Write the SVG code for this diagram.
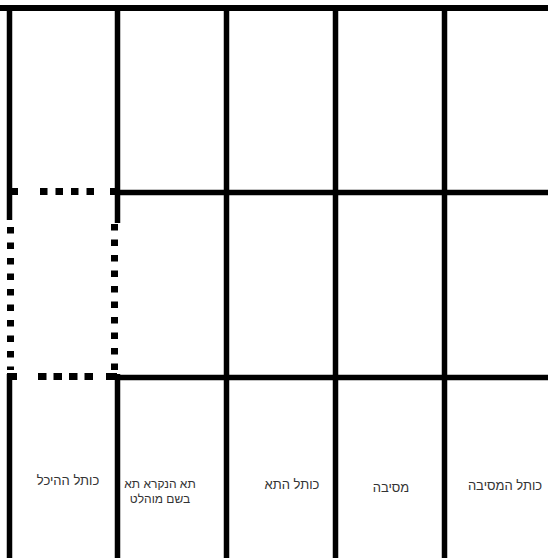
<svg xmlns="http://www.w3.org/2000/svg" width="548" height="558" viewBox="0 0 548 558">
<style>
.ln{stroke:#000;stroke-width:5.5;fill:none}
.dot{stroke:#000;stroke-width:7;fill:none}
.lbl{font-family:"Liberation Sans","DejaVu Sans",sans-serif;font-size:13px;fill:#333;text-anchor:middle}
</style>
<rect width="548" height="558" fill="#fff"/>
<g id="connectors">
<line class="ln" x1="0" y1="8" x2="548" y2="8" style="stroke-width:6"/>
<line class="ln" x1="9.5" y1="5" x2="9.5" y2="220"/>
<line class="ln" x1="9.5" y1="374" x2="9.5" y2="558"/>
<line class="ln" x1="117.5" y1="5" x2="117.5" y2="223"/>
<line class="ln" x1="117.5" y1="374" x2="117.5" y2="558"/>
<line class="ln" x1="226.5" y1="5" x2="226.5" y2="558"/>
<line class="ln" x1="335.5" y1="5" x2="335.5" y2="558"/>
<line class="ln" x1="444.5" y1="5" x2="444.5" y2="558"/>
<line class="ln" x1="117" y1="192.5" x2="548" y2="192.5"/>
<line class="ln" x1="117" y1="377.5" x2="548" y2="377.5"/>
</g>
<g id="dotted-box">
<line class="ln" x1="7" y1="191.5" x2="18" y2="191.5" style="stroke-width:7"/>
<line class="dot" x1="40" y1="191.5" x2="96" y2="191.5" stroke-dasharray="7.5 8"/>
<line class="ln" x1="110" y1="191.5" x2="117" y2="191.5" style="stroke-width:7"/>
<line class="ln" x1="7" y1="376.5" x2="17" y2="376.5" style="stroke-width:7"/>
<line class="dot" x1="38" y1="376.5" x2="94" y2="376.5" stroke-dasharray="8.5 7"/>
<line class="ln" x1="106" y1="376.5" x2="117" y2="376.5" style="stroke-width:7"/>
<line class="dot" x1="10.5" y1="227" x2="10.5" y2="370" stroke-dasharray="6.5 9"/>
<line class="dot" x1="114.5" y1="224" x2="114.5" y2="370" stroke-dasharray="6.5 9"/>
</g>
<g id="col-heichal"><text class="lbl" x="68" y="485" direction="rtl">כותל ההיכל</text></g>
<g id="col-ta-muhlat"><text class="lbl" x="160" y="488" direction="rtl" style="font-size:12px">תא הנקרא תא</text><text class="lbl" x="160" y="503" direction="rtl" style="font-size:12px">בשם מוהלט</text></g>
<g id="col-kotel-hata"><text class="lbl" x="292" y="489" direction="rtl">כותל התא</text></g>
<g id="col-mesiba"><text class="lbl" x="391" y="492" direction="rtl">מסיבה</text></g>
<g id="col-kotel-hamesiba"><text class="lbl" x="505" y="490" direction="rtl">כותל המסיבה</text></g>
</svg>
